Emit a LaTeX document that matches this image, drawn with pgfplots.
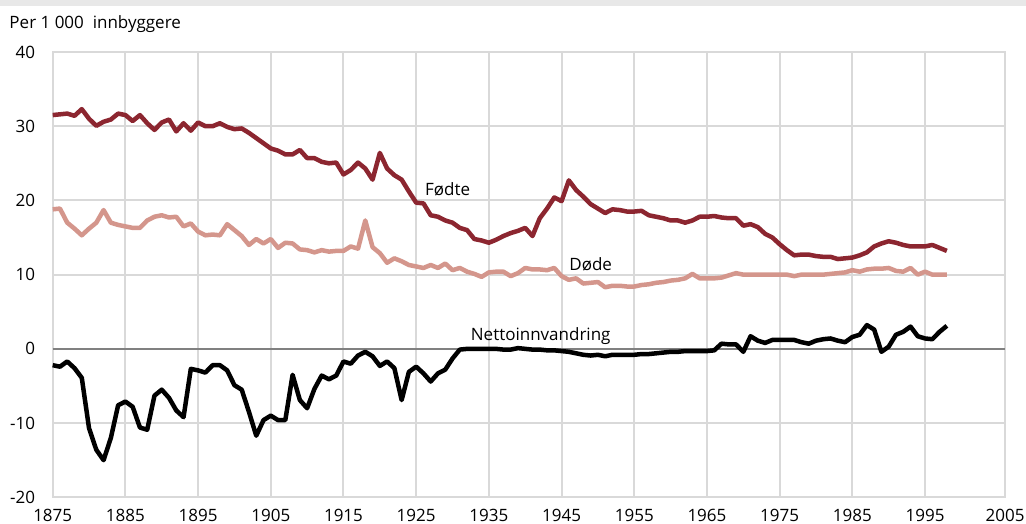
\documentclass[border=0pt]{standalone}
\usepackage{pgfplots}
\pgfplotsset{compat=1.18}
\usepackage{fontspec}
\setmainfont{Open Sans}
\definecolor{fodte}{RGB}{140,38,48}
\definecolor{dode}{RGB}{212,150,140}
\definecolor{gridc}{RGB}{217,217,217}
\definecolor{zeroc}{RGB}{128,128,128}
\definecolor{band}{RGB}{232,232,232}

\pgfplotstableread{
year fodte dode netto
1875 31.5 18.8 -2.2
1876 31.6 18.9 -2.4
1877 31.7 17.0 -1.7
1878 31.4 16.2 -2.6
1879 32.3 15.3 -3.9
1880 31.0 16.2 -10.7
1881 30.05 17.0 -13.6
1882 30.6 18.7 -15.0
1883 30.9 17.0 -12.0
1884 31.7 16.7 -7.6
1885 31.5 16.5 -7.1
1886 30.7 16.3 -7.8
1887 31.5 16.3 -10.6
1888 30.4 17.3 -10.9
1889 29.5 17.8 -6.3
1890 30.5 18.0 -5.5
1891 30.9 17.7 -6.6
1892 29.3 17.8 -8.3
1893 30.4 16.5 -9.2
1894 29.4 16.9 -2.7
1895 30.5 15.8 -2.9
1896 30.0 15.3 -3.2
1897 30.0 15.4 -2.2
1898 30.4 15.3 -2.2
1899 29.9 16.8 -2.9
1900 29.6 16.0 -4.9
1901 29.7 15.2 -5.5
1902 29.1 14.0 -8.5
1903 28.4 14.8 -11.7
1904 27.7 14.2 -9.6
1905 27.0 14.8 -9.0
1906 26.7 13.6 -9.6
1907 26.2 14.3 -9.6
1908 26.2 14.2 -3.5
1909 26.8 13.4 -6.9
1910 25.7 13.3 -8.0
1911 25.7 13.0 -5.4
1912 25.2 13.3 -3.6
1913 25.0 13.1 -4.1
1914 25.1 13.2 -3.6
1915 23.5 13.2 -1.7
1916 24.1 13.8 -2.0
1917 25.1 13.5 -0.9
1918 24.3 17.3 -0.4
1919 22.8 13.7 -1.0
1920 26.4 12.9 -2.3
1921 24.3 11.6 -1.7
1922 23.4 12.2 -2.6
1923 22.8 11.8 -6.9
1924 21.2 11.3 -3.1
1925 19.7 11.1 -2.4
1926 19.6 10.9 -3.3
1927 18.0 11.3 -4.4
1928 17.8 10.9 -3.3
1929 17.3 11.5 -2.8
1930 17.0 10.6 -1.3
1931 16.3 10.9 -0.1
1932 16.0 10.4 0.0
1933 14.8 10.1 0.0
1934 14.6 9.7 0.0
1935 14.3 10.3 0.0
1936 14.7 10.4 0.0
1937 15.2 10.4 -0.1
1938 15.6 9.8 -0.1
1939 15.9 10.2 0.1
1940 16.3 10.9 0.0
1941 15.2 10.7 -0.1
1942 17.6 10.7 -0.1
1943 18.9 10.6 -0.2
1944 20.4 10.9 -0.2
1945 19.9 9.8 -0.3
1946 22.7 9.3 -0.4
1947 21.4 9.5 -0.6
1948 20.5 8.8 -0.8
1949 19.5 8.9 -0.9
1950 18.9 9.0 -0.8
1951 18.3 8.3 -1.0
1952 18.8 8.5 -0.8
1953 18.7 8.5 -0.8
1954 18.5 8.4 -0.8
1955 18.5 8.4 -0.8
1956 18.6 8.6 -0.7
1957 18.0 8.7 -0.7
1958 17.8 8.9 -0.6
1959 17.6 9.0 -0.5
1960 17.3 9.2 -0.4
1961 17.3 9.3 -0.4
1962 17.0 9.5 -0.3
1963 17.3 10.1 -0.3
1964 17.8 9.5 -0.3
1965 17.8 9.5 -0.3
1966 17.9 9.5 -0.2
1967 17.7 9.6 0.7
1968 17.6 9.9 0.6
1969 17.6 10.2 0.6
1970 16.6 10.0 -0.4
1971 16.8 10.0 1.7
1972 16.4 10.0 1.1
1973 15.5 10.0 0.8
1974 15.0 10.0 1.2
1975 14.1 10.0 1.2
1976 13.3 10.0 1.2
1977 12.6 9.8 1.2
1978 12.7 10.0 0.9
1979 12.7 10.0 0.7
1980 12.5 10.0 1.1
1981 12.4 10.0 1.3
1982 12.4 10.1 1.4
1983 12.1 10.2 1.1
1984 12.2 10.3 0.9
1985 12.3 10.6 1.6
1986 12.6 10.4 1.9
1987 13.0 10.7 3.2
1988 13.8 10.8 2.6
1989 14.2 10.8 -0.4
1990 14.5 10.9 0.3
1991 14.3 10.5 1.9
1992 14.0 10.4 2.3
1993 13.8 10.9 3.0
1994 13.8 10.0 1.7
1995 13.8 10.4 1.4
1996 14.0 10.0 1.3
1997 13.6 10.0 2.3
1998 13.2 10.0 3.1
}\datatable

\begin{document}
\begin{tikzpicture}[x=1bp,y=1bp]
\useasboundingbox (-52.7,-26.7) rectangle (973.3,497.3);
\fill[band] (-52.7,491.3) rectangle (973.3,497.3);
\node[anchor=base west, inner sep=0pt, font=\fontsize{17bp}{20bp}\selectfont] at (-43.4,469) {Per 1 000\ \ innbyggere};
\begin{axis}[
  at={(0,0)}, anchor=south west,
  scale only axis, width=952.3bp, height=445.3bp,
  xmin=1875, xmax=2006, ymin=-20, ymax=40,
  xtick={1875,1885,1895,1905,1915,1925,1935,1945,1955,1965,1975,1985,1995,2006},
  xticklabels={1875,1885,1895,1905,1915,1925,1935,1945,1955,1965,1975,1985,1995,2005},
  ytick={-20,-10,0,10,20,30,40},
  yticklabels={-20,-10,0,10,20,30,40},
  grid=major,
  major grid style={gridc, line width=2bp},
  axis line style={gridc, line width=2bp},
  tick style={draw=none},
  ticklabel style={font=\fontsize{17bp}{20bp}\selectfont, inner sep=0pt},
  yticklabel style={anchor=east, xshift=-17.5bp},
  xticklabel style={anchor=north, yshift=-11.2bp},
  clip=false,
]
\draw[zeroc, line width=2bp] (axis cs:1875,0) -- (axis cs:2006,0);
\addplot[fodte, line width=4.5bp, line join=round, no markers] table[x=year, y=fodte] {\datatable};
\addplot[dode, line width=4.5bp, line join=round, no markers] table[x=year, y=dode] {\datatable};
\addplot[black, line width=4.5bp, line join=round, no markers] table[x=year, y=netto] {\datatable};
\node[anchor=base west, inner sep=0pt, font=\fontsize{17bp}{20bp}\selectfont] at (axis cs:1926.2,20.6) {Fødte};
\node[anchor=base west, inner sep=0pt, font=\fontsize{17bp}{20bp}\selectfont] at (axis cs:1946.05,10.5) {Døde};
\node[anchor=base west, inner sep=0pt, font=\fontsize{17bp}{20bp}\selectfont] at (axis cs:1932.5,1.12) {Nettoinnvandring};
\end{axis}
\end{tikzpicture}
\end{document}
